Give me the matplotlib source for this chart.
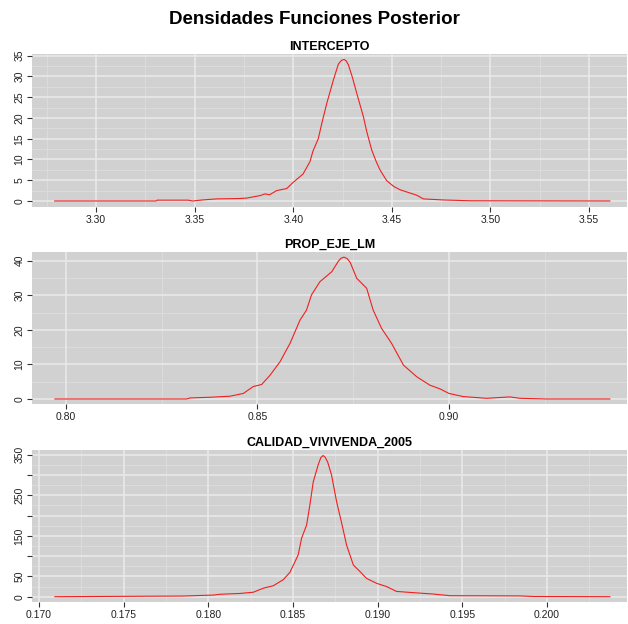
import matplotlib
matplotlib.use("Agg")
import matplotlib.pyplot as plt

# posterior density curves
int_x = [3.279, 3.3305, 3.3310, 3.3467, 3.3490, 3.3540, 3.3610, 3.3730, 3.3764, 3.3832,
         3.3857, 3.3880, 3.3916, 3.3967, 3.4000, 3.4050, 3.4085, 3.4100, 3.4127, 3.4145,
         3.4170, 3.4204, 3.4229, 3.4245, 3.4258, 3.4268, 3.4280, 3.4300, 3.4322, 3.4356,
         3.4373, 3.4398, 3.4420, 3.4440, 3.4474, 3.4510, 3.4542, 3.4626, 3.4660, 3.4760,
         3.4897, 3.5606]
int_y = [0.0, 0.0, 0.2, 0.2, 0.0, 0.25, 0.5, 0.6, 0.7, 1.3,
         1.7, 1.5, 2.5, 3.0, 4.5, 6.5, 9.5, 12.0, 15.0, 18.7,
         23.5, 29.2, 33.0, 33.9, 34.1, 33.8, 32.8, 29.8, 26.0, 20.3,
         16.7, 12.3, 9.6, 7.5, 4.9, 3.5, 2.7, 1.4, 0.5, 0.25,
         0.05, 0.0]

prop_x = [0.7971, 0.8315, 0.8324, 0.8376, 0.8428, 0.8463, 0.8489, 0.8511, 0.8533, 0.8559,
          0.8585, 0.8611, 0.8628, 0.8641, 0.8663, 0.8694, 0.8711, 0.8718, 0.8726, 0.8734,
          0.8742, 0.8759, 0.8785, 0.8802, 0.8824, 0.8850, 0.8881, 0.8916, 0.8950, 0.8977,
          0.9000, 0.9037, 0.9098, 0.9159, 0.9185, 0.9255, 0.9420]
prop_y = [0, 0, 0.3, 0.5, 0.8, 1.6, 3.6, 4.2, 6.9, 10.8,
          16.1, 22.8, 25.7, 30.1, 33.9, 36.8, 39.8, 40.7, 41.0, 40.6,
          39.5, 34.9, 32.0, 25.7, 20.4, 16.1, 9.8, 6.4, 4.0, 2.9,
          1.6, 0.7, 0.2, 0.6, 0.2, 0.0, 0.0]

cal_x = [0.17094, 0.17852, 0.18029, 0.18069, 0.18187, 0.18266, 0.18325, 0.18384, 0.18443, 0.18482,
         0.18512, 0.18531, 0.18551, 0.18581, 0.18600, 0.18620, 0.18649, 0.18665, 0.18678, 0.18690,
         0.18705, 0.18728, 0.18758, 0.18788, 0.18817, 0.18857, 0.18896, 0.18935, 0.18994, 0.19053,
         0.19112, 0.19210, 0.19328, 0.19427, 0.19840, 0.19920, 0.20372]
cal_y = [0, 1.7, 4, 6, 8, 11, 21, 27, 42, 60,
         86, 103, 144, 177, 226, 283, 325, 343, 348, 344,
         332, 300, 234, 181, 127, 78, 62, 45, 33, 25,
         13, 10, 6.6, 2.5, 2, 0.5, 0]

titles = ["INTERCEPTO", "PROP_EJE_LM", "CALIDAD_VIVIVENDA_2005"]

int_xticks = [3.30, 3.35, 3.40, 3.45, 3.50, 3.55]
int_yticks = [0, 5, 10, 15, 20, 25, 30, 35]
prop_xticks = [0.80, 0.85, 0.90]
prop_yticks = [0, 10, 20, 30, 40]
cal_xticks = [0.170, 0.175, 0.180, 0.185, 0.190, 0.195, 0.200]
cal_yticks = [0, 50, 100, 150, 200, 250, 300, 350]
cal_ylabels = ["0", "50", "", "150", "", "250", "", "350"]

fonts = ["Liberation Sans Narrow", "Liberation Sans", "DejaVu Sans"]

W, H = 628, 624
fig = plt.figure(figsize=(W / 100, H / 100), dpi=100)

def box(l, t, r, b):
    return [l / W, 1 - b / H, (r - l) / W, (b - t) / H]

panels = [
    (box(32, 54, 627, 207), int_x, int_y, int_xticks, "%.2f", int_yticks, None,
     (3.2675, 3.5693), (-1.45, 35.42)),
    (box(32, 252, 627, 404), prop_x, prop_y, prop_xticks, "%.2f", prop_yticks, None,
     (0.79112, 0.94648), (-1.45, 42.49)),
    (box(32, 450, 627, 602), cal_x, cal_y, cal_xticks, "%.3f", cal_yticks, cal_ylabels,
     (0.16959, 0.20473), (-13.06, 361.6)),
]

for i, (pos, xs, ys, xt, fmt, yt, ylab, xl, yl) in enumerate(panels):
    ax = fig.add_axes(pos)
    ax.set_facecolor("#D1D1D1")
    # minor grid halfway between majors
    xmin = [(a + b) / 2 for a, b in zip(xt[:-1], xt[1:])]
    xmin = [xt[0] - (xt[1] - xt[0]) / 2] + xmin + [xt[-1] + (xt[1] - xt[0]) / 2]
    ymin = [(a + b) / 2 for a, b in zip(yt[:-1], yt[1:])] + [yt[-1] + (yt[1] - yt[0]) / 2]
    for v in xmin:
        ax.axvline(v, color="#DCDCDC", lw=0.7, zorder=0)
    for v in ymin:
        ax.axhline(v, color="#DCDCDC", lw=0.7, zorder=0)
    for v in xt:
        ax.axvline(v, color="#EAEAEA", lw=1.1, zorder=0)
    for v in yt:
        ax.axhline(v, color="#EAEAEA", lw=1.1, zorder=0)

    ax.plot(xs, ys, color="#F02020", lw=0.8)
    ax.set_xlim(*xl)
    ax.set_ylim(*yl)
    ax.set_xticks(xt)
    ax.set_xticklabels([fmt % v for v in xt], family=fonts)
    ax.set_yticks(yt)
    if ylab is None:
        ylab = [str(v) for v in yt]
    ax.set_yticklabels(ylab, rotation=90, va="center", family=fonts)
    ax.tick_params(length=3.5, width=0.8, color="#333333", labelsize=7.5,
                   labelcolor="#222222", pad=2)
    for s in ax.spines.values():
        s.set_visible(False)
    ax.set_title(titles[i], fontsize=9, fontweight="bold", family=fonts, pad=3)

fig.suptitle("Densidades Funciones Posterior", fontsize=13.5, fontweight="bold",
             family=fonts, y=1 - 19 / H, va="center")

fig.savefig("out.png", dpi=100, facecolor="white")
